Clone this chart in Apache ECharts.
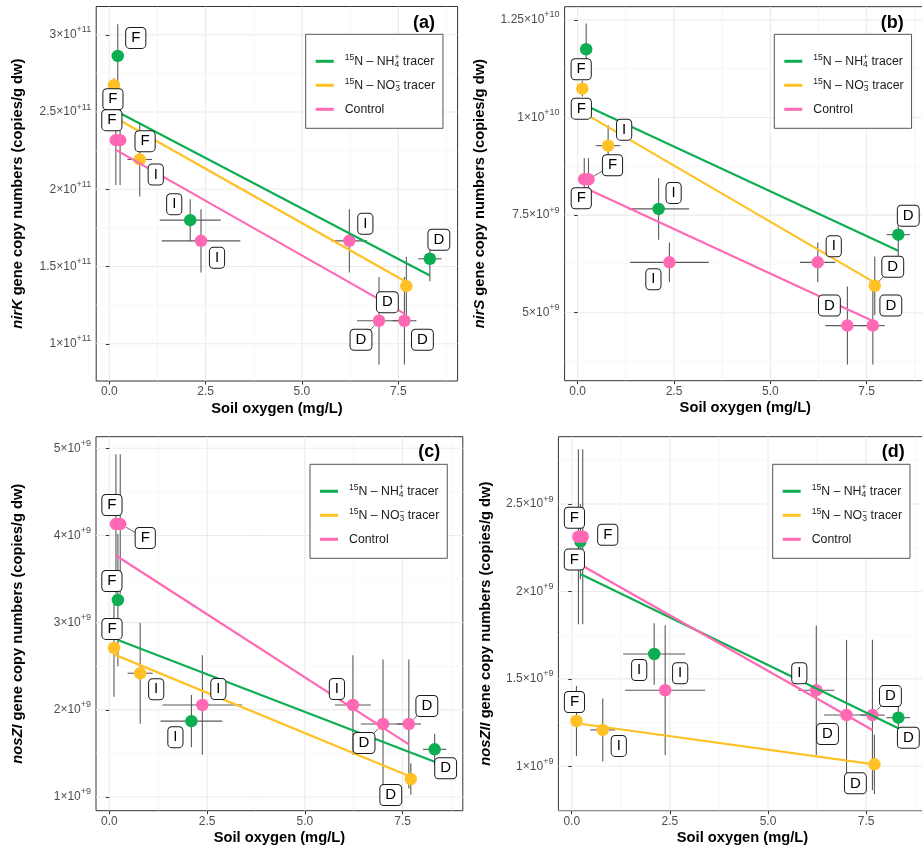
<!DOCTYPE html>
<html><head><meta charset="utf-8">
<script src="https://cdn.jsdelivr.net/npm/echarts@6/dist/echarts.min.js"></script>
<style>html,body{margin:0;padding:0;background:#fff}#c{width:922px;height:851px}</style>
</head><body><div id="c"></div>
<script>
// ---------- DATA ----------
// stages (labels) per treatment
const stagesNH4 = ['F', 'I', 'D'];
const stagesNO3 = ['F', 'I', 'D'];
const stagesCtrl = ['F', 'F', 'I', 'I', 'D', 'D'];
// soil oxygen (mg/L) mean and sd per treatment (same in every panel)
const oxNH4 = [0.22, 2.10, 8.32];
const oxSdNH4 = [0.03, 0.79, 0.30];
const oxNO3 = [0.12, 0.79, 7.71];
const oxSdNO3 = [0.03, 0.32, 0.05];
const oxCtrl = [0.17, 0.28, 2.38, 6.23, 7.00, 7.66];
const oxSdCtrl = [0.03, 0.03, 1.02, 0.46, 0.57, 0.31];

// (a) nirK
const nirK_NH4 = [2.863e11, 1.800e11, 1.550e11];
const nirK_NH4_sd = [0.205e11, 0.136e11, 0.145e11];
const nirK_NO3 = [2.673e11, 2.193e11, 1.373e11];
const nirK_NO3_sd = [0.045e11, 0.240e11, 0.190e11];
const nirK_Ctrl = [2.318e11, 2.318e11, 1.666e11, 1.666e11, 1.149e11, 1.149e11];
const nirK_Ctrl_sd = [0.29e11, 0.29e11, 0.205e11, 0.205e11, 0.283e11, 0.283e11];
const fitNirK_NH4 = [[0.22, 2.50e11], [8.32, 1.442e11]];
const fitNirK_NO3 = [[0.12, 2.468e11], [7.71, 1.400e11]];
const fitNirK_Ctrl = [[0.17, 2.255e11], [7.66, 1.195e11]];

// (b) nirS
const nirS_NH4 = [11.75e9, 7.66e9, 7.00e9];
const nirS_NH4_sd = [0.66e9, 0.79e9, 0.58e9];
const nirS_NO3 = [10.74e9, 9.28e9, 5.69e9];
const nirS_NO3_sd = [0.20e9, 0.52e9, 0.75e9];
const nirS_Ctrl = [8.42e9, 8.42e9, 6.29e9, 6.29e9, 4.67e9, 4.67e9];
const nirS_Ctrl_sd = [0.54e9, 0.54e9, 0.51e9, 0.51e9, 1.00e9, 1.00e9];
const fitNirS_NH4 = [[0.22, 10.30e9], [8.32, 6.59e9]];
const fitNirS_NO3 = [[0.12, 10.14e9], [7.71, 5.77e9]];
const fitNirS_Ctrl = [[0.17, 8.21e9], [7.66, 4.79e9]];

// (c) nosZI
const nosZI_NH4 = [3.26e9, 1.87e9, 1.547e9];
const nosZI_NH4_sd = [0.76e9, 0.30e9, 0.18e9];
const nosZI_NO3 = [2.71e9, 2.42e9, 1.206e9];
const nosZI_NO3_sd = [0.56e9, 0.58e9, 0.18e9];
const nosZI_Ctrl = [4.131e9, 4.131e9, 2.055e9, 2.055e9, 1.837e9, 1.837e9];
const nosZI_Ctrl_sd = [0.80e9, 0.80e9, 0.57e9, 0.57e9, 0.74e9, 0.74e9];
const fitNosZI_NH4 = [[0.22, 2.80e9], [8.32, 1.405e9]];
const fitNosZI_NO3 = [[0.12, 2.636e9], [7.71, 1.233e9]];
const fitNosZI_Ctrl = [[0.17, 3.77e9], [7.66, 1.604e9]];

// (d) nosZII
const nosZII_NH4 = [2.285e9, 1.642e9, 1.278e9];
const nosZII_NH4_sd = [0.215e9, 0.176e9, 0.17e9];
const nosZII_NO3 = [1.259e9, 1.208e9, 1.011e9];
const nosZII_NO3_sd = [0.20e9, 0.18e9, 0.17e9];
const nosZII_Ctrl = [2.313e9, 2.313e9, 1.435e9, 1.435e9, 1.293e9, 1.293e9];
const nosZII_Ctrl_sd = [0.50e9, 0.50e9, 0.37e9, 0.37e9, 0.43e9, 0.43e9];
const fitNosZII_NH4 = [[0.22, 2.10e9], [8.32, 1.217e9]];
const fitNosZII_NO3 = [[0.12, 1.246e9], [7.71, 1.011e9]];
const fitNosZII_Ctrl = [[0.17, 2.16e9], [7.66, 1.208e9]];

// tick values
const xMajor = [0, 2.5, 5, 7.5];
const xMinor = [1.25, 3.75, 6.25, 8.75];
const yMajorA = [1e11, 1.5e11, 2e11, 2.5e11, 3e11];
const yMinorA = [1.25e11, 1.75e11, 2.25e11, 2.75e11];
const yMajorB = [5e9, 7.5e9, 1e10, 1.25e10];
const yMinorB = [3.75e9, 6.25e9, 8.75e9, 11.25e9];
const yMajorC = [1e9, 2e9, 3e9, 4e9, 5e9];
const yMinorC = [1.5e9, 2.5e9, 3.5e9, 4.5e9];
const yMajorD = [1e9, 1.5e9, 2e9, 2.5e9];
const yMinorD = [0.75e9, 1.25e9, 1.75e9, 2.25e9, 2.75e9];

// ---------- LAYOUT (label offsets in px: dx, dy, connector) ----------
const labA_NH4 = [[18, -18, 0], [-16, -16, 0], [9, -19, 0]];
const labA_NO3 = [[-1, 14, 0], [16, 15, 0], [-19, 16, 0]];
const labA_Ctrl = [[-4, -20, 0], [25, 1, 0], [16, 17, 0], [16, -17, 0], [-18, 19, 1], [18, 19, 0]];
const labB_NH4 = [[-5, 20, 0], [15, -16, 0], [10, -19, 0]];
const labB_NO3 = [[-1, 20, 0], [16, -16, 0], [18, -19, 1]];
const labB_Ctrl = [[-3, 19, 0], [24, -14, 1], [-16, 17, 0], [16, -16, 0], [-18, -20, 0], [18, -20, 0]];
const labC_NH4 = [[-6, -19, 0], [-16, 16, 0], [11, 19, 0]];
const labC_NO3 = [[-2, -19, 0], [16, 16, 0], [-20, 16, 0]];
const labC_Ctrl = [[-4, -19, 0], [25, 14, 1], [16, -16, 0], [-16, -16, 0], [-19, 19, 1], [18, -18, 1]];
const labD_NH4 = [[-6, 18, 0], [-15, 16, 0], [10, 20, 0]];
const labD_NO3 = [[-2, -19, 0], [16, 16, 0], [-19, 19, 0]];
const labD_Ctrl = [[-4, -19, 0], [25, -2, 0], [15, -17, 0], [-17, -17, 0], [-19, 19, 0], [18, -19, 1]];

const FONT = '"Liberation Sans", Arial, Helvetica, sans-serif';
const COL = { NH4: '#0DAE52', NO3: '#FFC125', Control: '#FF69B4' };
const X_MIN = -0.34, X_MAX = 9.04;

const panels = [
  { grid: { left: 96.2, top: 6.5, width: 361.4, height: 374.5 }, yMin: 0.759e11, yMax: 3.183e11,
    yMajor: yMajorA, yMinor: yMinorA, gene: 'nirK', nameGap: 69.5, legend: { left: 305.7, top: 34.3 },
    tag: '(a)', tagPos: [424, 22.7],
    groups: [[nirK_NH4, nirK_NH4_sd, fitNirK_NH4, labA_NH4], [nirK_NO3, nirK_NO3_sd, fitNirK_NO3, labA_NO3], [nirK_Ctrl, nirK_Ctrl_sd, fitNirK_Ctrl, labA_Ctrl]] },
  { grid: { left: 564.6, top: 6.7, width: 361.4, height: 374 }, yMin: 3.258e9, yMax: 12.84e9,
    yMajor: yMajorB, yMinor: yMinorB, gene: 'nirS', nameGap: 76, legend: { left: 774.3, top: 34.3 },
    tag: '(b)', tagPos: [892.3, 22.7],
    groups: [[nirS_NH4, nirS_NH4_sd, fitNirS_NH4, labB_NH4], [nirS_NO3, nirS_NO3_sd, fitNirS_NO3, labB_NO3], [nirS_Ctrl, nirS_Ctrl_sd, fitNirS_Ctrl, labB_Ctrl]] },
  { grid: { left: 96.0, top: 436.7, width: 366.8, height: 374 }, yMin: 0.843e9, yMax: 5.133e9,
    yMajor: yMajorC, yMinor: yMinorC, gene: 'nosZI', nameGap: 69.2, legend: { left: 310, top: 464.3 },
    tag: '(c)', tagPos: [429.3, 452.3],
    groups: [[nosZI_NH4, nosZI_NH4_sd, fitNosZI_NH4, labC_NH4], [nosZI_NO3, nosZI_NO3_sd, fitNosZI_NO3, labC_NO3], [nosZI_Ctrl, nosZI_Ctrl_sd, fitNosZI_Ctrl, labC_Ctrl]] },
  { grid: { left: 558.4, top: 436.7, width: 368.2, height: 374 }, yMin: 0.746e9, yMax: 2.885e9,
    yMajor: yMajorD, yMinor: yMinorD, gene: 'nosZII', nameGap: 64, legend: { left: 772.7, top: 464.3 },
    tag: '(d)', tagPos: [893.3, 452.3],
    groups: [[nosZII_NH4, nosZII_NH4_sd, fitNosZII_NH4, labD_NH4], [nosZII_NO3, nosZII_NO3_sd, fitNosZII_NO3, labD_NO3], [nosZII_Ctrl, nosZII_Ctrl_sd, fitNosZII_Ctrl, labD_Ctrl]] }
];
const groupMeta = [
  { name: 'NH4', ox: oxNH4, oxSd: oxSdNH4, stages: stagesNH4 },
  { name: 'NO3', ox: oxNO3, oxSd: oxSdNO3, stages: stagesNO3 },
  { name: 'Control', ox: oxCtrl, oxSd: oxSdCtrl, stages: stagesCtrl }
];

function fmtY(v) {
  const e = Math.floor(Math.log10(v) + 1e-9);
  const m = parseFloat((v / Math.pow(10, e)).toPrecision(6));
  return '{m|' + m + '×10}{e|+' + e + '}';
}

const grids = [], xAxes = [], yAxes = [], series = [], legends = [], graphics = [];

panels.forEach((p, gi) => {
  grids.push(Object.assign({ show: true, borderColor: '#333', borderWidth: 1, backgroundColor: 'transparent', containLabel: false, outerBoundsMode: 'none' }, p.grid));
  xAxes.push({
    gridIndex: gi, type: 'value', min: X_MIN, max: X_MAX,
    name: 'Soil oxygen (mg/L)', nameLocation: 'middle', nameGap: 20,
    nameTextStyle: { fontFamily: FONT, fontWeight: 'bold', fontSize: 14.7, color: '#000' },
    axisLine: { show: false },
    axisTick: { show: true, customValues: xMajor, length: 3.5, lineStyle: { color: '#333', width: 1 } },
    axisLabel: { customValues: xMajor, interval: 0, formatter: v => v.toFixed(1), color: '#4D4D4D', fontFamily: FONT, fontSize: 12, margin: 5 },
    splitLine: { show: false }
  });
  yAxes.push({
    gridIndex: gi, type: 'value', min: p.yMin, max: p.yMax,
    name: '{i|' + p.gene + '}{n| gene copy numbers (copies/g dw)}', nameLocation: 'middle', nameGap: p.nameGap,
    nameTextStyle: { rich: {
      i: { fontFamily: FONT, fontStyle: 'italic', fontWeight: 'bold', fontSize: 14.7, color: '#000', lineHeight: 17 },
      n: { fontFamily: FONT, fontWeight: 'bold', fontSize: 14.7, color: '#000', lineHeight: 17 } } },
    axisLine: { show: false },
    axisTick: { show: true, customValues: p.yMajor, length: 3.5, lineStyle: { color: '#333', width: 1 } },
    axisLabel: { customValues: p.yMajor, interval: 0, formatter: fmtY, margin: 5,
      rich: { m: { fontFamily: FONT, fontSize: 12, color: '#4D4D4D', lineHeight: 19 },
              e: { fontFamily: FONT, fontSize: 9, color: '#4D4D4D', verticalAlign: 'top', lineHeight: 10 } } },
    splitLine: { show: false }
  });
  // grid lines
  const gdata = [];
  xMajor.forEach(v => gdata.push([v, 0, 0]));
  xMinor.forEach(v => gdata.push([v, 0, 1]));
  p.yMajor.forEach(v => gdata.push([v, 1, 0]));
  p.yMinor.forEach(v => gdata.push([v, 1, 1]));
  series.push({
    type: 'custom', xAxisIndex: gi, yAxisIndex: gi, z: 0, silent: true, data: gdata,
    renderItem(params, api) {
      const v = api.value(0), k = api.value(1), m = api.value(2);
      const cs = params.coordSys;
      let shape;
      if (k === 0) { const c = api.coord([v, p.yMin]); shape = { x1: c[0], y1: cs.y, x2: c[0], y2: cs.y + cs.height }; }
      else { const c = api.coord([X_MIN, v]); shape = { x1: cs.x, y1: c[1], x2: cs.x + cs.width, y2: c[1] }; }
      return { type: 'line', shape, style: { stroke: m ? '#F3F3F3' : '#EBEBEB', lineWidth: m ? 0.7 : 1.1 } };
    }
  });
  // error bars
  p.groups.forEach((g, k) => {
    const meta = groupMeta[k];
    series.push({
      type: 'custom', xAxisIndex: gi, yAxisIndex: gi, z: 1, silent: true,
      data: meta.ox.map((x, i) => [x, g[0][i], meta.oxSd[i], g[1][i]]),
      renderItem(params, api) {
        const x = api.value(0), y = api.value(1), sx = api.value(2), sy = api.value(3);
        const h1 = api.coord([x - sx, y]), h2 = api.coord([x + sx, y]);
        const v1 = api.coord([x, y - sy]), v2 = api.coord([x, y + sy]);
        const st = { stroke: '#5A5A5A', lineWidth: 1.1 };
        return { type: 'group', children: [
          { type: 'line', shape: { x1: h1[0], y1: h1[1], x2: h2[0], y2: h2[1] }, style: st },
          { type: 'line', shape: { x1: v1[0], y1: v1[1], x2: v2[0], y2: v2[1] }, style: st }] };
      }
    });
  });
  // points
  p.groups.forEach((g, k) => {
    const meta = groupMeta[k];
    series.push({
      type: 'scatter', name: meta.name + ' points', xAxisIndex: gi, yAxisIndex: gi, z: 2, silent: true,
      symbol: 'circle', symbolSize: 12.5, itemStyle: { color: COL[meta.name], opacity: 1 },
      data: meta.ox.map((x, i) => [x, g[0][i]])
    });
  });
  // fitted lines
  p.groups.forEach((g, k) => {
    const meta = groupMeta[k];
    series.push({
      type: 'line', name: meta.name, xAxisIndex: gi, yAxisIndex: gi, z: 3, silent: true,
      showSymbol: false, symbol: 'none', data: g[2],
      lineStyle: { color: COL[meta.name], width: 2.2 }, itemStyle: { color: COL[meta.name] }
    });
  });
  // labels
  p.groups.forEach((g, k) => {
    const meta = groupMeta[k];
    const offs = g[3];
    series.push({
      type: 'custom', xAxisIndex: gi, yAxisIndex: gi, z: 10, silent: true,
      data: meta.ox.map((x, i) => [x, g[0][i]]),
      renderItem(params, api) {
        const i = params.dataIndex, o = offs[i];
        const c = api.coord([api.value(0), api.value(1)]);
        const lx = c[0] + o[0], ly = c[1] + o[1];
        const ch = [];
        if (o[2]) {
          const d = Math.hypot(o[0], o[1]), ux = o[0] / d, uy = o[1] / d;
          ch.push({ type: 'line', shape: { x1: c[0] + ux * 6.5, y1: c[1] + uy * 6.5, x2: lx, y2: ly }, style: { stroke: '#666', lineWidth: 1 } });
        }
        ch.push({ type: 'text', x: lx, y: ly, style: { legacy: false, text: meta.stages[i], font: '15px ' + FONT, fill: '#000',
          align: 'center', verticalAlign: 'middle', backgroundColor: '#fff', borderColor: '#1A1A1A', borderWidth: 1,
          borderRadius: 3.5, padding: [3, 5, 2, 5] } });
        return { type: 'group', children: ch };
      }
    });
  });
  legends.push({
    left: p.legend.left, top: p.legend.top, orient: 'vertical', selectedMode: false,
    data: ['NH4', 'NO3', 'Control'], icon: 'rect', itemWidth: 18, itemHeight: 3, itemGap: 8,
    padding: [19, 8, 11, 10], borderColor: '#555', borderWidth: 1, backgroundColor: '#fff',
    formatter: n => n === 'NH4' ? '{p|15}N – NH{b|4}{q|+} tracer' : (n === 'NO3' ? '{p|15}N – NO{b|3}{q|−} tracer' : 'Control'),
    textStyle: { fontFamily: FONT, fontSize: 12.3, color: '#1A1A1A', lineHeight: 16, padding: [0, 0, 0, 6],
      rich: { p: { fontFamily: FONT, fontSize: 8.5, verticalAlign: 'top', lineHeight: 9, color: '#1A1A1A' },
              b: { fontFamily: FONT, fontSize: 8.5, verticalAlign: 'bottom', lineHeight: 9, color: '#1A1A1A', width: 0.01 },
              q: { fontFamily: FONT, fontSize: 8.5, verticalAlign: 'top', lineHeight: 9, color: '#1A1A1A' } } }
  });
  graphics.push({ type: 'text', x: p.tagPos[0], y: p.tagPos[1], z: 100,
    style: { legacy: false, text: p.tag, font: 'bold 18px ' + FONT, fill: '#000', align: 'center', verticalAlign: 'middle' } });
});

const chart = echarts.init(document.getElementById('c'), null, { renderer: 'canvas' });
chart.setOption({
  animation: false, backgroundColor: '#fff',
  textStyle: { fontFamily: FONT },
  grid: grids, xAxis: xAxes, yAxis: yAxes, series, legend: legends, graphic: graphics
});
</script></body></html>
